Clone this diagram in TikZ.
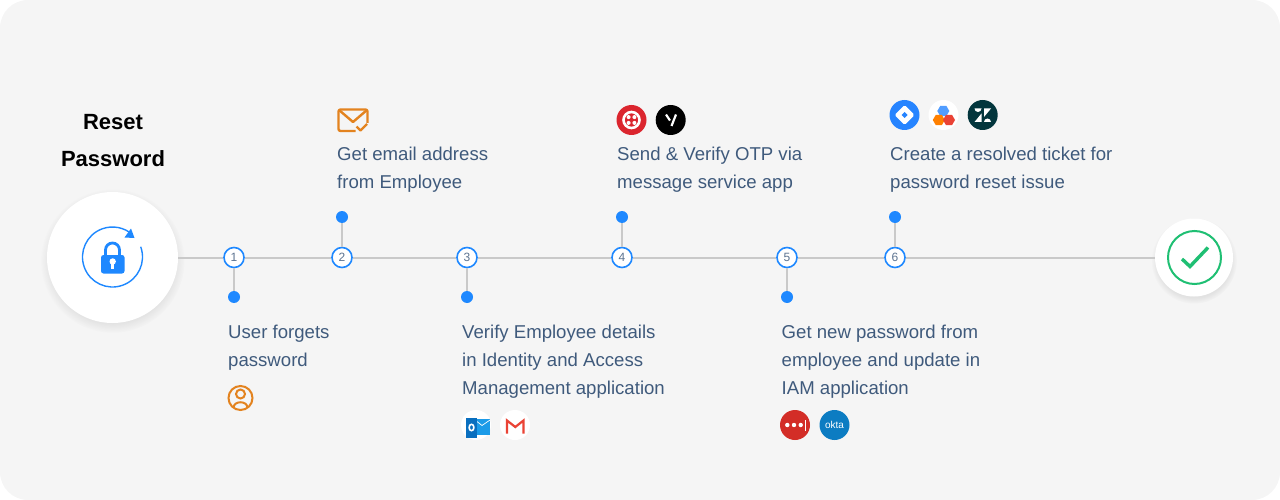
\documentclass[tikz,border=0pt]{standalone}
\usepackage{fontspec}
\setmainfont{Liberation Sans}
\usetikzlibrary{shadows,shapes.geometric}
\definecolor{panelgray}{HTML}{F5F5F5}
\definecolor{linegray}{HTML}{C9C9C9}
\definecolor{stepblue}{HTML}{1E88FF}
\definecolor{copyblue}{HTML}{3F5A7C}
\definecolor{iconorange}{HTML}{E3831F}
\definecolor{okgreen}{HTML}{1FBF73}
\definecolor{twiliored}{HTML}{DB252E}
\definecolor{jirablue}{HTML}{2684FF}
\definecolor{zendeskteal}{HTML}{03363D}
\definecolor{oktablue}{HTML}{0C7CC2}
\definecolor{lastpassred}{HTML}{D32D27}
\definecolor{outlookdark}{HTML}{0A6FBF}
\definecolor{outlooklight}{HTML}{1C9BE8}
\definecolor{gmailred}{HTML}{EA4335}
\tikzset{
  stepnode/.style={circle,draw=stepblue,line width=1.6pt,fill=white,minimum size=20pt,inner sep=0pt,
    text=copyblue!85,font=\fontsize{12}{12}\selectfont},
  dotnode/.style={circle,fill=stepblue,minimum size=12pt,inner sep=0pt},
  copynode/.style={anchor=north west,inner sep=0pt,align=left,text=copyblue,font=\fontsize{18.6}{28}\selectfont},
  logonode/.style={circle,minimum size=30pt,inner sep=0pt},
  bignode/.style={circle,fill=white,inner sep=0pt,
    circular drop shadow={shadow xshift=0pt,shadow yshift=-3pt,shadow scale=1.1,opacity=0.16}},
  hexnode/.style={regular polygon,regular polygon sides=6,minimum size=12pt,inner sep=0pt},
}
\begin{document}
\begin{tikzpicture}[x=1pt,y=1pt]
      \useasboundingbox (0,0) rectangle (1280,-500);
      \fill[panelgray] (0,0) [rounded corners=28pt] rectangle (1280,-500);
      \draw[draw=none]
        (112.5,-257.5) node[bignode,minimum size=131pt] (start){}
        (1194,-257.5) node[bignode,minimum size=78pt] (finish){}
        (234,-257.5) node[stepnode] (step1){1}
        (342,-257.5) node[stepnode] (step2){2}
        (467,-257.5) node[stepnode] (step3){3}
        (622,-257.5) node[stepnode] (step4){4}
        (787,-257.5) node[stepnode] (step5){5}
        (895,-257.5) node[stepnode] (step6){6}
        (234,-297) node[dotnode] (dot1){}
        (342,-217) node[dotnode] (dot2){}
        (467,-297) node[dotnode] (dot3){}
        (622,-217) node[dotnode] (dot4){}
        (787,-297) node[dotnode] (dot5){}
        (895,-217) node[dotnode] (dot6){};
      \begin{scope}[linegray,line width=2pt]
        \draw (start) to (step1);
        \draw (step1) to (step2);
        \draw (step2) to (step3);
        \draw (step3) to (step4);
        \draw (step4) to (step5);
        \draw (step5) to (step6);
        \draw (step6) to (finish);
        \draw (step1) to (dot1);
        \draw (step2) to (dot2);
        \draw (step3) to (dot3);
        \draw (step4) to (dot4);
        \draw (step5) to (dot5);
        \draw (step6) to (dot6);
      \end{scope}
      \draw
        (113,-140.5) node[align=center,inner sep=0pt,text=black,font=\fontsize{22}{37}\selectfont\bfseries] (title){Reset\\Password}
        (228,-325) node[copynode] (copy1){User forgets\\password}
        (337,-147) node[copynode] (copy2){Get email address\\from Employee}
        (462,-325) node[copynode] (copy3){Verify Employee details\\in Identity and Access\\Management application}
        (617,-147) node[copynode] (copy4){Send \& Verify OTP via\\message service app}
        (781.5,-325) node[copynode] (copy5){Get new password from\\employee and update in\\IAM application}
        (890,-147) node[copynode] (copy6){Create a resolved ticket for\\password reset issue};
      % lock
      \draw[stepblue,line width=1.4pt] (112.5,-257) ++(20:30) arc (20:-312:30);
      \fill[stepblue] (134.5,-238) -- (131,-228.5) -- (124.5,-237.5) -- cycle;
      \draw[stepblue,line width=2.8pt] (105.5,-256) -- (105.5,-250) arc (180:0:7) -- (119.5,-256);
      \fill[stepblue,rounded corners=2.5pt] (101,-255) rectangle (124.5,-273.5);
      \fill[white] (112.7,-261.5) circle (3.2pt);
      \fill[white] (111.3,-262) rectangle (114.1,-269);
      % check
      \draw[okgreen,line width=2pt] (1194.5,-257.5) circle (26.5pt);
      \draw[okgreen,line width=3.4pt] (1182,-259) -- (1190,-266.5) -- (1208,-247.5);
      % user
      \begin{scope}[iconorange,line width=2pt]
        \draw (240.5,-398) circle (12pt);
        \draw (240.5,-394) circle (4.5pt);
        \draw (233.5,-407.5) .. controls (234,-400.5) and (247,-400.5) .. (247.5,-407.5);
      \end{scope}
      % mail
      \begin{scope}[iconorange,line width=2.4pt,line join=round]
        \draw[rounded corners=2pt] (355.5,-131) -- (338.5,-131) -- (338.5,-109.5) -- (367.5,-109.5) -- (367.5,-123);
        \draw (339,-110) -- (353,-122) -- (367,-110);
        \draw (356.5,-126.5) -- (360.5,-130.5) -- (367,-124);
      \end{scope}
      % message service logos
      \draw
        (631.5,-120) node[logonode,fill=twiliored] (twilio){}
        (670.7,-120) node[logonode,fill=black] (vonage){};
      \draw[white,line width=2.6pt] (twilio) circle (8pt);
      \fill[white] (628.6,-117.1) circle (2pt) (634.4,-117.1) circle (2pt)
        (628.6,-122.9) circle (2pt) (634.4,-122.9) circle (2pt);
      \draw[white,line width=2.2pt] (666,-114.5) -- (670,-120.5);
      \draw[white,line width=2.2pt] (676,-114.5) -- (671.5,-126);
      % ticket logos
      \draw
        (904.5,-115) node[logonode,fill=jirablue] (jira){}
        (943.5,-115) node[logonode,fill=white] (hexes){}
        (982.7,-115) node[logonode,fill=zendeskteal] (zendesk){};
      \fill[white,rounded corners=1.5pt] (904.5,-105) -- (914.5,-115) -- (904.5,-125) -- (894.5,-115) -- cycle;
      \fill[jirablue] (904.5,-112) -- (907.5,-115) -- (904.5,-118) -- (901.5,-115) -- cycle;
      \draw
        (943.3,-111) node[hexnode,fill=jirablue!80!white] (hexblue){}
        (938.8,-120) node[hexnode,fill=orange] (hexorange){}
        (949,-120) node[hexnode,fill=gmailred] (hexred){};
      \fill[white] (974.5,-108.5) -- (981.5,-108.5) arc (0:-180:3.5) -- cycle;
      \fill[white] (974.5,-122) -- (981.5,-122) -- (981.5,-113.5) -- cycle;
      \fill[white] (984,-108.5) -- (991,-108.5) -- (984,-117) -- cycle;
      \fill[white] (984,-122) -- (991,-122) arc (0:180:3.5) -- cycle;
      % mail logos
      \draw
        (476,-425) node[logonode,fill=white] (outlook){}
        (515,-425) node[logonode,fill=white] (gmail){};
      \fill[outlooklight] (475,-418.5) rectangle (490,-435);
      \draw[white,line width=0.7pt] (475,-420) -- (482,-425.5) -- (490,-420);
      \fill[outlookdark] (466,-417.5) rectangle (477,-437.5);
      \draw[white,line width=1.6pt] (471.5,-427.5) ellipse (2.4pt and 3.2pt);
      \draw[gmailred,line width=2.2pt,line join=miter] (507,-433.5) -- (507,-420.5) -- (515.3,-427) -- (523.5,-420.5) -- (523.5,-433.5);
      % iam logos
      \draw
        (795,-425) node[logonode,fill=lastpassred] (lastpass){}
        (834.5,-425) node[logonode,fill=oktablue,text=white,font=\fontsize{10}{10}\selectfont] (okta){okta};
      \fill[white] (787.3,-425) circle (2.2pt) (794,-425) circle (2.2pt) (800.7,-425) circle (2.2pt);
      \fill[white] (805,-419.5) rectangle (806.4,-430.5);
    \end{tikzpicture}
\end{document}
